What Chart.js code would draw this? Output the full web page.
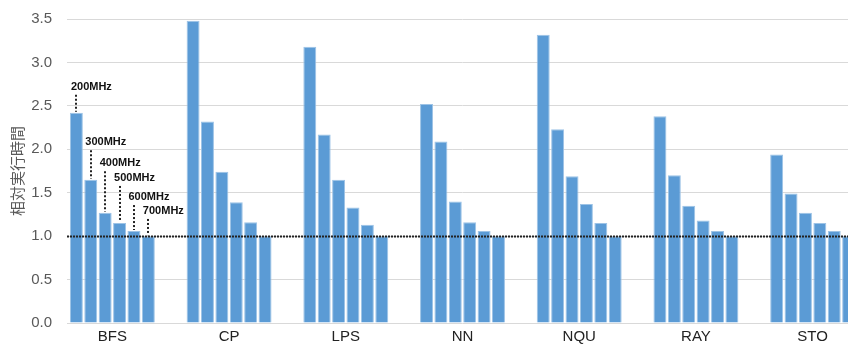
<!DOCTYPE html>
<html>
<head>
<meta charset="utf-8">
<script src="https://cdn.jsdelivr.net/npm/chart.js@4"></script>
<style>
  html, body { margin: 0; padding: 0; background: #fff; overflow: hidden; }
  #wrap { width: 871px; height: 345px; }
</style>
</head>
<body>
<div id="wrap"><canvas id="myChart"></canvas></div>
<script>
var categories = ['BFS', 'CP', 'LPS', 'NN', 'NQU', 'RAY', 'STO'];
var clocks = ['200MHz', '300MHz', '400MHz', '500MHz', '600MHz', '700MHz'];
var mhz200 = [2.42, 3.48, 3.18, 2.52, 3.32, 2.38, 1.94];
var mhz300 = [1.65, 2.32, 2.17, 2.09, 2.23, 1.70, 1.49];
var mhz400 = [1.27, 1.74, 1.65, 1.40, 1.69, 1.35, 1.27];
var mhz500 = [1.15, 1.39, 1.33, 1.16, 1.37, 1.18, 1.15];
var mhz600 = [1.06, 1.16, 1.13, 1.06, 1.15, 1.06, 1.06];
var mhz700 = [1.00, 1.00, 1.00, 1.00, 1.00, 1.00, 1.00];
var yTicks = [0, 0.5, 1.0, 1.5, 2.0, 2.5, 3.0, 3.5];
// where the clock labels sit over the BFS bars (value units)
var labelValues = [2.72, 2.08, 1.84, 1.67, 1.45, 1.29];
var baseline = 1.0;

var series = [mhz200, mhz300, mhz400, mhz500, mhz600, mhz700];

// gap between the tick labels and the plot, then annotations
var overlay = {
  id: 'overlay',
  beforeDatasetsDraw: function(chart) {
    var c = chart.ctx, a = chart.chartArea;
    c.save();
    c.fillStyle = '#fff';
    c.fillRect(a.left, a.top - 2, 13, a.bottom - a.top + 4);
    c.restore();
  },
  afterDatasetsDraw: function(chart) {
    var c = chart.ctx, a = chart.chartArea, y = chart.scales.y;
    c.save();
    // reference line at 1.0
    var yb = Math.round(y.getPixelForValue(baseline)) + 0.5;
    c.strokeStyle = '#222';
    c.lineWidth = 2;
    c.setLineDash([2, 1]);
    c.beginPath();
    c.moveTo(a.left + 13, yb);
    c.lineTo(a.right, yb);
    c.stroke();

    // clock labels on BFS
    c.font = 'bold 11px "Liberation Sans", Arial, sans-serif';
    c.fillStyle = '#111';
    c.textBaseline = 'middle';
    c.setLineDash([2, 2]);
    for (var i = 0; i < clocks.length; i++) {
      var bar = chart.getDatasetMeta(i).data[0];
      var ly = y.getPixelForValue(labelValues[i]);
      c.fillText(clocks[i], bar.x - bar.width / 2 + 1, ly);
      var lx = Math.round(bar.x);
      c.beginPath();
      c.moveTo(lx, ly + 8);
      c.lineTo(lx, bar.y - 1);
      c.stroke();
    }
    c.restore();
  }
};

var ctx = document.getElementById('myChart').getContext('2d');
var myChart = new Chart(ctx, {
  type: 'bar',
  data: {
    labels: categories,
    datasets: series.map(function(vals, i) {
      return {
        label: clocks[i],
        data: vals,
        backgroundColor: '#5b9bd5',
        borderColor: '#9dc3e6',
        borderWidth: 1,
        categoryPercentage: 0.74,
        barPercentage: 0.9
      };
    })
  },
  options: {
    responsive: true,
    maintainAspectRatio: false,
    animation: false,
    layout: { padding: { top: 19, right: 0, bottom: 0, left: 0 } },
    plugins: {
      legend: { display: false },
      tooltip: { enabled: false }
    },
    scales: {
      x: {
        grid: { display: false, drawTicks: false },
        border: { display: false },
        ticks: {
          padding: 5,
          color: '#222',
          font: { family: '"Liberation Sans", Arial, sans-serif', size: 15 }
        },
        afterFit: function(s) { s.height = 22; }
      },
      y: {
        min: 0,
        max: 3.5,
        afterBuildTicks: function(s) {
          s.ticks = yTicks.map(function(v) { return { value: v }; });
        },
        grid: { color: '#d9d9d9', lineWidth: 1, drawTicks: false },
        border: { display: false },
        ticks: {
          padding: 2,
          color: '#595959',
          font: { family: '"Liberation Sans", Arial, sans-serif', size: 15 },
          callback: function(v) { return Number(v).toFixed(1); }
        },
        title: {
          display: true,
          text: '相対実行時間',
          color: '#595959',
          padding: { top: 8, bottom: 0 },
          font: { family: '"Noto Sans CJK JP", sans-serif', size: 15 }
        },
        afterFit: function(s) { s.width = 54; }
      }
    }
  },
  plugins: [overlay]
});
</script>
</body>
</html>
